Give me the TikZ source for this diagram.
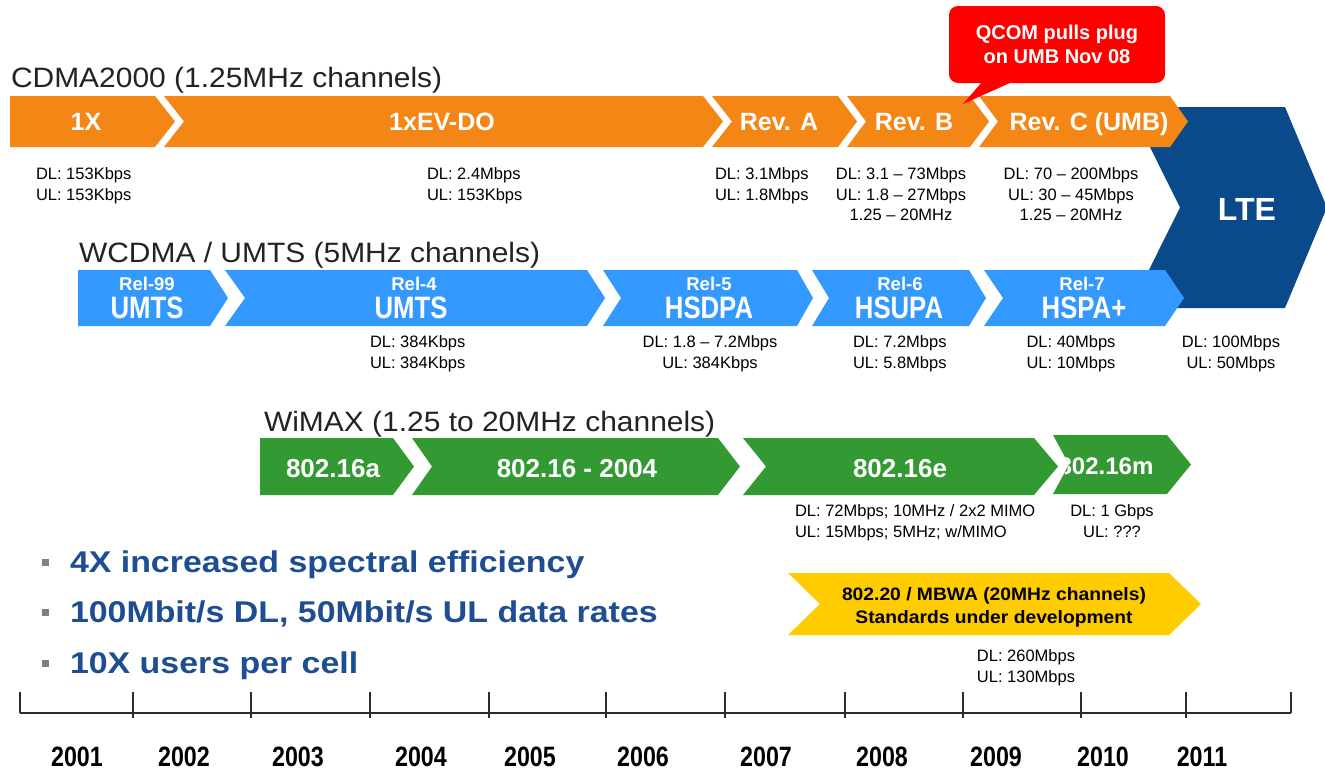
\documentclass[tikz,border=0pt]{standalone}
\usepackage{fontspec}
\setmainfont{Liberation Sans}
\newfontfamily\widesans[FakeStretch=1.07]{Liberation Sans}
\newfontfamily\pointsans[FakeStretch=1.13]{Liberation Sans}
\newfontfamily\narrowsans[FakeStretch=0.83]{Liberation Sans}

\definecolor{cdmaorange}{RGB}{244,134,22}
\definecolor{umtsblue}{RGB}{51,153,255}
\definecolor{ltenavy}{RGB}{11,74,138}
\definecolor{wimaxgreen}{RGB}{51,153,51}
\definecolor{mbwayellow}{RGB}{255,204,0}
\definecolor{alertred}{RGB}{255,0,0}
\definecolor{inkgrey}{RGB}{35,35,35}
\definecolor{pointblue}{RGB}{30,78,145}
\definecolor{bulletgrey}{RGB}{128,128,128}
\definecolor{axisgrey}{RGB}{45,45,45}

% chevron: colour, left, right, top, bottom, notch depth, tip depth
\newcommand\chev[7]{\fill[#1] (#2,#4) -- (#3,#4) -- ({#3+#7},{(#4+#5)/2}) -- (#3,#5) -- (#2,#5) -- ({#2+#6},{(#4+#5)/2}) -- cycle;}
\newcommand\chevclip[6]{\clip (#1,#3) -- (#2,#3) -- ({#2+#6},{(#3+#4)/2}) -- (#2,#4) -- (#1,#4) -- ({#1+#5},{(#3+#4)/2}) -- cycle;}

\tikzset{
  every node/.style={inner sep=0pt, outer sep=0pt},
  ttl/.style={font=\widesans\fontsize{28}{28}\selectfont, text=inkgrey, anchor=base west},
  cdmalab/.style={font=\bfseries\fontsize{25}{25}\selectfont, text=white, anchor=base},
  rellab/.style={font=\bfseries\fontsize{18.5}{18.5}\selectfont, text=white, anchor=base},
  umtslab/.style={font=\narrowsans\bfseries\fontsize{31}{31}\selectfont, text=white, anchor=base},
  wimaxlab/.style={font=\bfseries\fontsize{26}{26}\selectfont, text=white, anchor=base},
  rate/.style={font=\fontsize{16.5}{20.5}\selectfont, text=black, align=left, anchor=north west},
  ratec/.style={font=\fontsize{16.5}{20.5}\selectfont, text=black, align=center, anchor=north},
  point/.style={font=\pointsans\bfseries\fontsize{30}{30}\selectfont, text=pointblue, anchor=base west},
  bulletsq/.style={fill=bulletgrey, minimum size=7pt},
  yearlab/.style={font=\narrowsans\bfseries\fontsize{28}{28}\selectfont, text=black, anchor=base},
  tick/.style={draw=axisgrey, line width=1.3pt},
}

\begin{document}
\begin{tikzpicture}[x=1pt,y=-1pt]
\useasboundingbox (0,0) rectangle (1325,771);
\fill[white] (0,0) rectangle (1325,771);

% LTE block behind both rows
\begin{scope}
  \clip (0,0) rectangle (1325,771);
  \fill[ltenavy] (1130,107) -- (1285,107) -- (1327,207.5) -- (1285,308) -- (1130,308) -- (1180,207.5) -- cycle;
\end{scope}
\node[font=\bfseries\fontsize{32}{32}\selectfont, text=white, anchor=base] (lte) at (1247,220) {LTE};

% CDMA2000 row
\node[ttl] (cdmatitle) at (11,87) {CDMA2000 (1.25MHz channels)};
\chev{cdmaorange}{10}{155}{96}{147}{0}{20}
\chev{cdmaorange}{164}{703}{96}{147}{20}{20}
\chev{cdmaorange}{712}{838}{96}{147}{20}{19}
\chev{cdmaorange}{847}{970}{96}{147}{19}{19}
\chev{cdmaorange}{979}{1170}{96}{147}{19}{18}
\node[cdmalab] (onex) at (86,130) {1X};
\node[cdmalab] (evdo) at (442,130) {1xEV-DO};
\node[cdmalab] (reva) at (779,130) {Rev. A};
\node[cdmalab] (revb) at (914,130) {Rev. B};
\node[cdmalab] (revc) at (1089,130) {Rev. C (UMB)};

\node[rate] (onexrate) at (36,168) {DL: 153Kbps\\UL: 153Kbps};
\node[rate] (evdorate) at (427,168) {DL: 2.4Mbps\\UL: 153Kbps};
\node[rate] (revarate) at (715,168) {DL: 3.1Mbps\\UL: 1.8Mbps};
\node[ratec] (revbrate) at (901,168) {DL: 3.1 -- 73Mbps\\UL: 1.8 -- 27Mbps\\1.25 -- 20MHz};
\node[ratec] (revcrate) at (1071,168) {DL: 70 -- 200Mbps\\UL: 30 -- 45Mbps\\1.25 -- 20MHz};

% WCDMA / UMTS row
\node[ttl] (wcdmatitle) at (79,262) {WCDMA / UMTS (5MHz channels)};
\chev{umtsblue}{78}{210}{270}{326}{0}{18}
\chev{umtsblue}{225}{587}{270}{326}{20}{18}
\chev{umtsblue}{603}{797}{270}{326}{18}{16}
\chev{umtsblue}{812}{969}{270}{326}{17}{17}
\chev{umtsblue}{984}{1165}{270}{326}{19}{19}
\node[rellab] (r99) at (147,290) {Rel-99};
\node[umtslab] (r99n) at (147,318) {UMTS};
\node[rellab] (r4) at (414,290) {Rel-4};
\node[umtslab] (r4n) at (411,318) {UMTS};
\node[rellab] (r5) at (709,290) {Rel-5};
\node[umtslab] (r5n) at (709,318) {HSDPA};
\node[rellab] (r6) at (900,290) {Rel-6};
\node[umtslab] (r6n) at (899,318) {HSUPA};
\node[rellab] (r7) at (1082,290) {Rel-7};
\node[umtslab] (r7n) at (1084,318) {HSPA+};

\node[rate] (r4rate) at (370,336) {DL: 384Kbps\\UL: 384Kbps};
\node[ratec] (r5rate) at (710,336) {DL: 1.8 -- 7.2Mbps\\UL: 384Kbps};
\node[rate] (r6rate) at (853,336) {DL: 7.2Mbps\\UL: 5.8Mbps};
\node[ratec] (r7rate) at (1071,336) {DL: 40Mbps\\UL: 10Mbps};
\node[ratec] (lterate) at (1231,336) {DL: 100Mbps\\UL: 50Mbps};

% WiMAX row
\node[ttl] (wimaxtitle) at (264,431) {WiMAX (1.25 to 20MHz channels)};
\chev{wimaxgreen}{260}{393}{438}{495}{0}{21}
\chev{wimaxgreen}{412}{718}{438}{495}{20}{22}
\chev{wimaxgreen}{743}{1034}{438}{495}{23}{24}
\chev{wimaxgreen}{1053}{1167}{435}{494}{16}{24}
\node[wimaxlab] (w16a) at (333,477) {802.16a};
\node[wimaxlab] (w2004) at (577,477) {802.16 - 2004};
\node[wimaxlab] (w16e) at (900,477) {802.16e};
\begin{scope}
  \chevclip{1053}{1167}{435}{494}{16}{24}
  \node[wimaxlab, font=\bfseries\fontsize{24}{24}\selectfont] (w16m) at (1106,474) {802.16m};
\end{scope}
\node[rate] (w16erate) at (795,505) {DL: 72Mbps; 10MHz / 2x2 MIMO\\UL: 15Mbps; 5MHz; w/MIMO};
\node[ratec] (w16mrate) at (1112,505) {DL: 1 Gbps\\UL: ???};

% 802.20 / MBWA
\chev{mbwayellow}{788}{1169}{573}{635}{32}{32}
\node[font=\widesans\bfseries\fontsize{18}{23}\selectfont, text=black, align=center, anchor=north] (mbwa) at (994,587) {802.20 / MBWA (20MHz channels)\\Standards under development};
\node[ratec] (mbwarate) at (1026,650) {DL: 260Mbps\\UL: 130Mbps};

% LTE highlights
\node[bulletsq] (b1) at (45.5,562) {};
\node[bulletsq] (b2) at (45.5,612) {};
\node[bulletsq] (b3) at (45.5,663) {};
\node[point] (p1) at (70,572) {4X increased spectral efficiency};
\node[point] (p2) at (70,622) {100Mbit/s DL, 50Mbit/s UL data rates};
\node[point] (p3) at (70,673) {10X users per cell};

% UMB call-out
\fill[alertred, rounded corners=9pt] (949,6) rectangle (1165,83);
\coordinate (calloutl) at (982,82);
\coordinate (calloutr) at (1012,82);
\coordinate (callouttip) at (963,104);
\fill[alertred] (calloutl) -- (calloutr) -- (callouttip) -- cycle;
\node[font=\bfseries\fontsize{20}{24}\selectfont, text=white, align=center, anchor=north] (callout) at (1057,25) {QCOM pulls plug\\on UMB Nov 08};

% time axis
\coordinate (axl) at (20,713);
\coordinate (axr) at (1291,713);
\draw[axisgrey, line width=2.7pt] (axl) -- (axr);
\coordinate (tkla) at (20,692);
\coordinate (tkra) at (1291,692);
\draw[tick] (tkla) -- (axl);
\draw[tick] (tkra) -- (axr);
\foreach \x [count=\i] in {133,251,370,489,606,725,845,963,1081,1186} {
  \coordinate (tk\i a) at (\x,692);
  \coordinate (tk\i b) at (\x,718);
  \draw[tick] (tk\i a) -- (tk\i b);
}
\foreach \x/\yr in {77/2001,184/2002,298/2003,421/2004,530/2005,643/2006,766/2007,882/2008,996/2009,1103/2010,1202/2011} {
  \node[yearlab] (yr\yr) at (\x,766) {\yr};
}
\end{tikzpicture}
\end{document}
